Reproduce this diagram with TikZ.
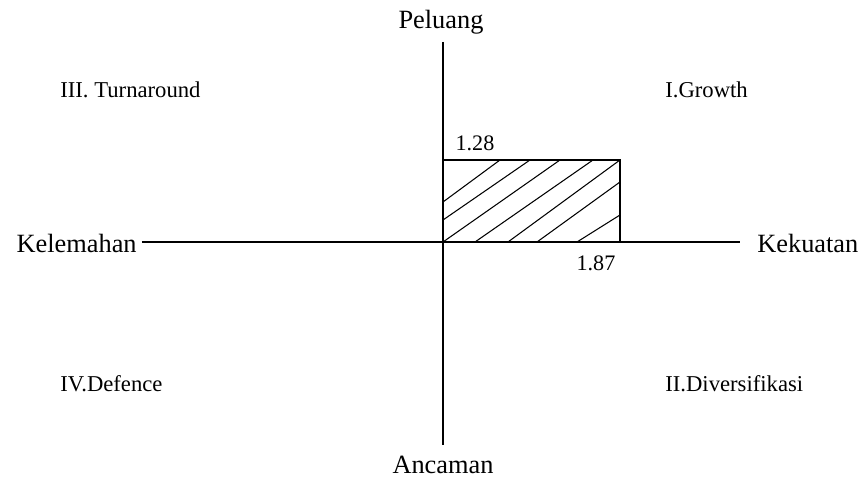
\documentclass[tikz,border=0pt]{standalone}
\usepackage{fontspec}
\setmainfont{Liberation Serif}
\begin{document}
\begin{tikzpicture}[x=0.02cm,y=0.02cm]
% Maße (px)
\def\S{177}  % Kekuatan (x)
\def\O{82}   % Peluang (y)

\useasboundingbox (-443,-235) rectangle (417,242);

\tikzset{
  achse/.style={line width=1.7pt},
  achsetext/.style={font=\fontsize{15}{18}\selectfont,inner sep=0pt},
  kuadrant/.style={font=\fontsize{12.9}{15}\selectfont,inner sep=0pt,anchor=west},
  nilai/.style={font=\fontsize{12.6}{15}\selectfont,inner sep=0pt}
}

% Achsen
\coordinate (oben) at (0,200);
\coordinate (unten) at (0,-203);
\coordinate (links) at (-301,0);
\coordinate (rechts) at (297,0);
\draw[achse] (oben) -- (unten);
\draw[achse] (links) -- (rechts);

% Beschriftung der Achsen
\node[achsetext] (peluang) at (-2,220) {Peluang};
\node[achsetext] (ancaman) at (0,-223) {Ancaman};
\node[achsetext,anchor=east] (kelemahan) at (-306,-1) {Kelemahan};
\node[achsetext,anchor=west] (kekuatan) at (314,-1) {Kekuatan};

% Quadranten
\node[kuadrant] (q3) at (-383,152) {III. Turnaround};
\node[kuadrant] (q1) at (222,152) {I.Growth};
\node[kuadrant] (q4) at (-383,-142) {IV.Defence};
\node[kuadrant] (q2) at (222,-142) {II.Diversifikasi};

% Schraffur (Hand gezogen)
\foreach \a/\b/\c/\d in {0/40/57/\O, 0/22/87/\O, 0/0/117/\O, 32/0/150/\O,
                         65/0/\S/\O, 94/0/\S/60, 134/0/\S/27}{
\draw[line width=0.6pt] (\a,\b) -- (\c,\d);
}

% Rechteck
\draw[line width=1.2pt] (0,\O) -- (\S,\O) -- (\S,0);

% Werte
\node[nilai] (wo) at (32,99) {1.28};
\node[nilai] (ws) at (153,-21) {1.87};

\end{tikzpicture}
\end{document}
